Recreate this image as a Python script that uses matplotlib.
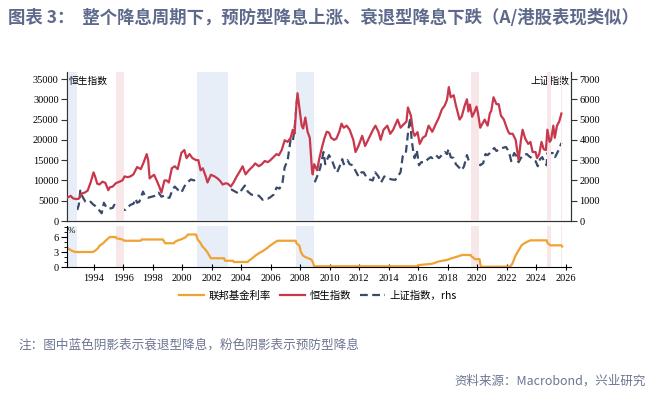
import matplotlib
matplotlib.use("Agg")
import matplotlib.pyplot as plt
from matplotlib.ticker import MultipleLocator

plt.rcParams["font.family"] = ["Liberation Serif", "Noto Sans CJK SC", "DejaVu Sans"]

CJK = ["Noto Sans CJK SC", "DejaVu Sans"]

# Hang Seng index (left axis), decimal years
hsi_t = [1992.25, 1992.45, 1992.6, 1992.85, 1993.0, 1993.2, 1993.4, 1993.6, 1993.8, 1994.0,
         1994.1, 1994.25, 1994.4, 1994.6, 1994.8, 1995.0, 1995.1, 1995.3, 1995.5, 1995.7,
         1995.95, 1996.1, 1996.3, 1996.5, 1996.7, 1996.95, 1997.2, 1997.4, 1997.6, 1997.7,
         1997.8, 1997.95, 1998.1, 1998.3, 1998.45, 1998.6, 1998.8, 1998.95, 1999.1, 1999.3,
         1999.5, 1999.7, 1999.95, 2000.15, 2000.3, 2000.5, 2000.7, 2000.95, 2001.1, 2001.25,
         2001.4, 2001.6, 2001.72, 2001.95, 2002.2, 2002.4, 2002.55, 2002.75, 2002.95, 2003.1,
         2003.3, 2003.5, 2003.7, 2003.95, 2004.1, 2004.3, 2004.45, 2004.6, 2004.8, 2004.95,
         2005.2, 2005.4, 2005.6, 2005.8, 2005.95, 2006.2, 2006.4, 2006.55, 2006.75, 2006.95,
         2007.15, 2007.35, 2007.5, 2007.62, 2007.75, 2007.82, 2007.95, 2008.1, 2008.2, 2008.35,
         2008.5, 2008.65, 2008.8, 2008.85, 2008.95, 2009.15, 2009.3, 2009.5, 2009.65, 2009.8,
         2009.95, 2010.1, 2010.3, 2010.45, 2010.65, 2010.8, 2010.95, 2011.15, 2011.35, 2011.6,
         2011.75, 2011.95, 2012.2, 2012.4, 2012.6, 2012.8, 2012.95, 2013.1, 2013.3, 2013.45,
         2013.65, 2013.9, 2014.1, 2014.3, 2014.6, 2014.8, 2014.95, 2015.2, 2015.3, 2015.5,
         2015.65, 2015.75, 2015.95, 2016.1, 2016.3, 2016.5, 2016.7, 2016.95, 2017.2, 2017.4,
         2017.6, 2017.8, 2017.95, 2018.07, 2018.2, 2018.4, 2018.55, 2018.8, 2018.95, 2019.15,
         2019.3, 2019.4, 2019.5, 2019.65, 2019.8, 2019.95, 2020.05, 2020.2, 2020.35, 2020.5,
         2020.7, 2020.85, 2020.95, 2021.1, 2021.3, 2021.45, 2021.6, 2021.8, 2021.95, 2022.1,
         2022.2, 2022.4, 2022.6, 2022.8, 2022.95, 2023.07, 2023.25, 2023.45, 2023.6, 2023.75,
         2023.95, 2024.05, 2024.2, 2024.35, 2024.5, 2024.65, 2024.75, 2024.9, 2025.0, 2025.15,
         2025.25, 2025.4, 2025.55, 2025.7]
hsi_v = [5800, 6200, 5600, 5400, 5500, 6800, 7000, 7500, 9500, 12000,
         11000, 9200, 9000, 9700, 9400, 7600, 8300, 8500, 9300, 9600,
         10000, 11000, 10800, 11000, 11500, 13300, 12800, 14500, 16500, 15000,
         10500, 11000, 11400, 9800, 8500, 7000, 10000, 10000, 9500, 13000,
         13500, 12800, 16800, 17500, 15500, 16500, 15500, 15000, 15000, 12500,
         13000, 11000, 9500, 11400, 11000, 10500, 10000, 9000, 9300, 9200,
         8500, 9600, 11000, 12500, 13500, 11500, 12200, 12800, 13500, 14200,
         13500, 14000, 14800, 14500, 14900, 15800, 16500, 16200, 17500, 19900,
         19500, 20500, 22500, 21500, 29000, 31500, 27800, 23500, 22800, 25500,
         22000, 20500, 12500, 11500, 14000, 12500, 15500, 18500, 20500, 22000,
         21800, 20500, 20000, 20300, 22000, 24000, 23000, 23500, 22500, 20000,
         17000, 18500, 21000, 18500, 20000, 21500, 22600, 23500, 22000, 20000,
         22500, 23500, 21500, 22500, 25000, 23000, 23600, 24500, 28000, 26000,
         22000, 21000, 21900, 19000, 20500, 21000, 23500, 22000, 24000, 25500,
         27500, 28500, 29900, 33000, 30500, 31000, 28500, 25000, 25800, 28500,
         30000, 27000, 28700, 25700, 26800, 28200, 26500, 23000, 24000, 25000,
         23500, 26500, 27200, 30500, 28800, 28800, 26000, 25000, 23400, 22000,
         21500, 21500, 20000, 15000, 19800, 22500, 20300, 19000, 19500, 17000,
         17000, 15500, 16500, 19500, 17700, 17500, 22500, 19500, 20000, 23500,
         20500, 23500, 24500, 26500]

# Shanghai composite (right axis)
sse_t = [1992.25, 1992.4, 1992.55, 1992.7, 1992.85, 1993.0, 1993.1, 1993.25, 1993.45, 1993.6,
         1993.8, 1993.95, 1994.1, 1994.3, 1994.55, 1994.7, 1994.85, 1995.0, 1995.3, 1995.4,
         1995.6, 1995.8, 1995.95, 1996.15, 1996.35, 1996.5, 1996.7, 1996.85, 1996.95, 1997.1,
         1997.35, 1997.5, 1997.7, 1997.95, 1998.2, 1998.4, 1998.6, 1998.8, 1998.95, 1999.15,
         1999.35, 1999.5, 1999.7, 1999.95, 2000.15, 2000.35, 2000.6, 2000.8, 2000.95, 2001.15,
         2001.45, 2001.6, 2001.8, 2001.95, 2002.1, 2002.4, 2002.6, 2002.8, 2002.95, 2003.2,
         2003.35, 2003.6, 2003.85, 2004.0, 2004.25, 2004.45, 2004.7, 2004.95, 2005.2, 2005.45,
         2005.6, 2005.8, 2005.95, 2006.2, 2006.4, 2006.6, 2006.8, 2006.95, 2007.15, 2007.35,
         2007.5, 2007.65, 2007.79, 2007.9, 2007.98, 2008.1, 2008.25, 2008.4, 2008.5, 2008.65,
         2008.8, 2008.95, 2009.15, 2009.35, 2009.58, 2009.7, 2009.95, 2010.15, 2010.35, 2010.5,
         2010.65, 2010.85, 2010.95, 2011.2, 2011.35, 2011.55, 2011.8, 2011.95, 2012.15, 2012.3,
         2012.5, 2012.7, 2012.92, 2013.08, 2013.3, 2013.48, 2013.7, 2013.95, 2014.2, 2014.45,
         2014.6, 2014.8, 2014.95, 2015.15, 2015.3, 2015.45, 2015.55, 2015.65, 2015.75, 2015.9,
         2016.05, 2016.2, 2016.45, 2016.65, 2016.85, 2016.95, 2017.2, 2017.4, 2017.6, 2017.8,
         2017.95, 2018.05, 2018.2, 2018.4, 2018.55, 2018.75, 2018.95, 2019.1, 2019.3, 2019.45,
         2019.6, 2019.8, 2019.95, 2020.05, 2020.2, 2020.4, 2020.55, 2020.7, 2020.85, 2020.95,
         2021.15, 2021.3, 2021.5, 2021.7, 2021.95, 2022.15, 2022.3, 2022.5, 2022.65, 2022.8,
         2022.95, 2023.1, 2023.35, 2023.5, 2023.7, 2023.85, 2023.95, 2024.1, 2024.25, 2024.4,
         2024.55, 2024.7, 2024.75, 2024.9, 2025.0, 2025.2, 2025.27, 2025.45, 2025.55, 2025.7]
sse_v = [1250, 1350, 1050, 700, 450, 800, 1500, 1200, 950, 900,
         950, 830, 750, 600, 380, 900, 700, 600, 650, 800,
         730, 700, 560, 550, 700, 800, 850, 1100, 900, 950,
         1450, 1200, 1150, 1200, 1250, 1400, 1200, 1250, 1150, 1150,
         1550, 1700, 1550, 1400, 1700, 1900, 2050, 2000, 2080, 2050,
         2230, 2000, 1650, 1650, 1450, 1700, 1600, 1500, 1380, 1500,
         1550, 1450, 1350, 1500, 1750, 1450, 1300, 1270, 1250, 1050,
         1100, 1100, 1160, 1300, 1650, 1600, 1900, 2650, 3000, 4000,
         3900, 4800, 6000, 5200, 5200, 4300, 3500, 3400, 2800, 2300,
         1750, 1850, 2200, 2600, 3400, 2800, 3250, 3000, 2600, 2400,
         2650, 3050, 2800, 3000, 2800, 2750, 2400, 2200, 2400, 2400,
         2150, 2050, 2000, 2400, 2200, 1900, 2200, 2100, 2050, 2030,
         2200, 2400, 3200, 3300, 4300, 5100, 4000, 3500, 3100, 3500,
         2750, 2900, 2900, 3050, 3150, 3100, 3250, 3100, 3250, 3400,
         3300, 3550, 3150, 3100, 2800, 2650, 2500, 2700, 3250, 2900,
         2850, 2950, 3050, 2900, 2750, 2850, 3300, 3250, 3350, 3450,
         3600, 3450, 3550, 3600, 3650, 3400, 2950, 3350, 3200, 2900,
         3100, 3250, 3300, 3200, 3100, 3000, 2950, 2700, 3050, 3150,
         2900, 2750, 3350, 3350, 3350, 3350, 3150, 3400, 3550, 3850]

# Fed funds rate (%)
fed_t = [1992.25, 1992.5, 1992.75, 1993.95, 1994.1, 1994.3, 1994.4, 1994.65, 1994.9, 1995.1,
         1995.5, 1995.55, 1995.95, 1996.1, 1997.2, 1997.25, 1998.7, 1998.75, 1998.85, 1999.45,
         1999.5, 1999.65, 1999.9, 2000.1, 2000.25, 2000.4, 2000.95, 2001.05, 2001.2, 2001.3,
         2001.4, 2001.5, 2001.7, 2001.8, 2001.9, 2001.95, 2002.85, 2002.9, 2003.45, 2003.5,
         2004.45, 2004.5, 2004.65, 2004.95, 2005.2, 2005.5, 2005.75, 2005.95, 2006.2, 2006.45,
         2007.7, 2007.75, 2007.85, 2007.95, 2008.05, 2008.2, 2008.35, 2008.75, 2008.85, 2008.95,
         2015.95, 2016.0, 2016.95, 2017.2, 2017.45, 2017.95, 2018.2, 2018.45, 2018.75, 2018.97,
         2019.55, 2019.6, 2019.72, 2019.85, 2020.15, 2020.2, 2020.25, 2022.2, 2022.3, 2022.4,
         2022.5, 2022.6, 2022.75, 2022.9, 2023.0, 2023.1, 2023.25, 2023.4, 2023.6, 2024.7,
         2024.75, 2024.85, 2024.95, 2025.7, 2025.75]
fed_v = [3.75, 3.3, 3.0, 3.0, 3.25, 3.75, 4.25, 4.75, 5.5, 6.0,
         6.0, 5.75, 5.5, 5.25, 5.25, 5.5, 5.5, 5.25, 4.75, 4.75,
         5.0, 5.25, 5.5, 5.75, 6.0, 6.5, 6.5, 5.5, 5.0, 4.5,
         4.0, 3.75, 3.0, 2.5, 2.0, 1.75, 1.75, 1.25, 1.25, 1.0,
         1.0, 1.25, 1.5, 2.25, 2.75, 3.25, 3.75, 4.25, 4.75, 5.25,
         5.25, 4.75, 4.5, 4.25, 3.0, 2.25, 2.0, 1.5, 1.0, 0.15,
         0.15, 0.37, 0.66, 0.91, 1.16, 1.41, 1.68, 1.91, 2.18, 2.4,
         2.4, 2.13, 1.9, 1.55, 1.58, 0.65, 0.05, 0.08, 0.33, 0.83,
         1.58, 2.33, 3.08, 3.83, 4.33, 4.58, 4.83, 5.08, 5.33, 5.33,
         4.83, 4.58, 4.33, 4.33, 4.1]

# cut cycles: recession (blue) and preventive (pink)
recession_cuts = [(1992.25, 1992.9), (2001.0, 2003.1), (2007.7, 2008.95)]
preventive_cuts = [(1995.55, 1996.05), (2019.55, 2020.1), (2024.7, 2024.97), (2025.68, 2025.75)]

C_HSI = "#c8374b"
C_SSE = "#3b4a6b"
C_FED = "#f0a232"
C_BLUE = "#e7eef7"
C_PINK = "#f8e7e9"
C_TEXT = "#5e6a8c"

fig = plt.figure(figsize=(6.68, 3.94), dpi=100)
ax = fig.add_axes([0.1003, 0.439, 0.7545, 0.378])
ax2 = ax.twinx()
axb = fig.add_axes([0.1003, 0.3223, 0.7545, 0.1041])

xlim = (1992.2, 2026.35)
for a in (ax, axb):
    for s, e in recession_cuts:
        a.axvspan(s, e, color=C_BLUE, lw=0, zorder=0)
    for s, e in preventive_cuts:
        a.axvspan(s, e, color=C_PINK, lw=0, zorder=0)
    a.set_xlim(*xlim)

ax.plot(hsi_t, hsi_v, color=C_HSI, lw=1.6, zorder=3)
ax2.plot(sse_t, sse_v, color=C_SSE, lw=1.6, ls=(0, (3.5, 2)), zorder=2)
ax.set_zorder(ax2.get_zorder() + 1)
ax.patch.set_visible(False)

ax.set_ylim(0, 36700)
ax2.set_ylim(0, 7340)
ax.yaxis.set_major_locator(MultipleLocator(5000))
ax2.yaxis.set_major_locator(MultipleLocator(1000))
ax.set_xticks([])
ax2.set_xticks([])
ax.spines["top"].set_visible(False)
ax2.spines["top"].set_visible(False)
for sp in ("left", "right", "bottom"):
    ax2.spines[sp].set_color("#333333")
    ax.spines[sp].set_color("#333333")
ax.tick_params(axis="y", labelsize=7.5, length=4, width=0.8, color="#333333", pad=2)
ax2.tick_params(axis="y", labelsize=7.5, length=4, width=0.8, color="#333333", pad=2)
ax.text(0.003, 0.975, "恒生指数", transform=ax.transAxes, fontsize=7, family=CJK,
        ha="left", va="top")
ax2.text(0.997, 0.975, "上证指数", transform=ax.transAxes, fontsize=7, family=CJK,
         ha="right", va="top")

axb.plot(fed_t, fed_v, color=C_FED, lw=1.6)
axb.set_ylim(0, 8.2)
axb.set_yticks([0, 3, 6])
axb.yaxis.set_minor_locator(MultipleLocator(1))
axb.set_xticks(range(1994, 2027, 2))
axb.spines["top"].set_visible(False)
axb.spines["right"].set_visible(False)
axb.tick_params(axis="y", which="major", labelsize=7.5, length=4, width=0.8, pad=2)
axb.tick_params(axis="y", which="minor", length=2.5, width=0.6)
axb.tick_params(axis="x", labelsize=7.5, length=4, width=0.8, direction="inout", pad=3)
axb.text(0.002, 0.98, "%", transform=axb.transAxes, fontsize=6.5, ha="left", va="top")

handles = [
    plt.Line2D([], [], color=C_FED, lw=1.6),
    plt.Line2D([], [], color=C_HSI, lw=1.6),
    plt.Line2D([], [], color=C_SSE, lw=1.6, ls=(0, (3.5, 2))),
]
fig.legend(handles, ["联邦基金利率", "恒生指数", "上证指数，rhs"], loc="center",
           bbox_to_anchor=(0.476, 0.25), ncol=3, frameon=False, handlelength=2.4,
           columnspacing=0.9, handletextpad=0.4, prop={"family": CJK, "size": 7.5})

fig.text(0.012, 0.955, "图表 3：  整个降息周期下，预防型降息上涨、衰退型降息下跌（A/港股表现类似）",
         fontsize=12.5, fontweight="bold", color=C_TEXT, family=CJK, ha="left", va="center")
fig.text(0.027, 0.124, "注：图中蓝色阴影表示衰退型降息，粉色阴影表示预防型降息",
         fontsize=9.1, color="#6c7592", family=CJK, ha="left", va="center")
fig.text(0.966, 0.033, "资料来源：Macrobond，兴业研究",
         fontsize=9, color="#6c7592", family=CJK, ha="right", va="center")

fig.savefig("out.png", dpi=100)
